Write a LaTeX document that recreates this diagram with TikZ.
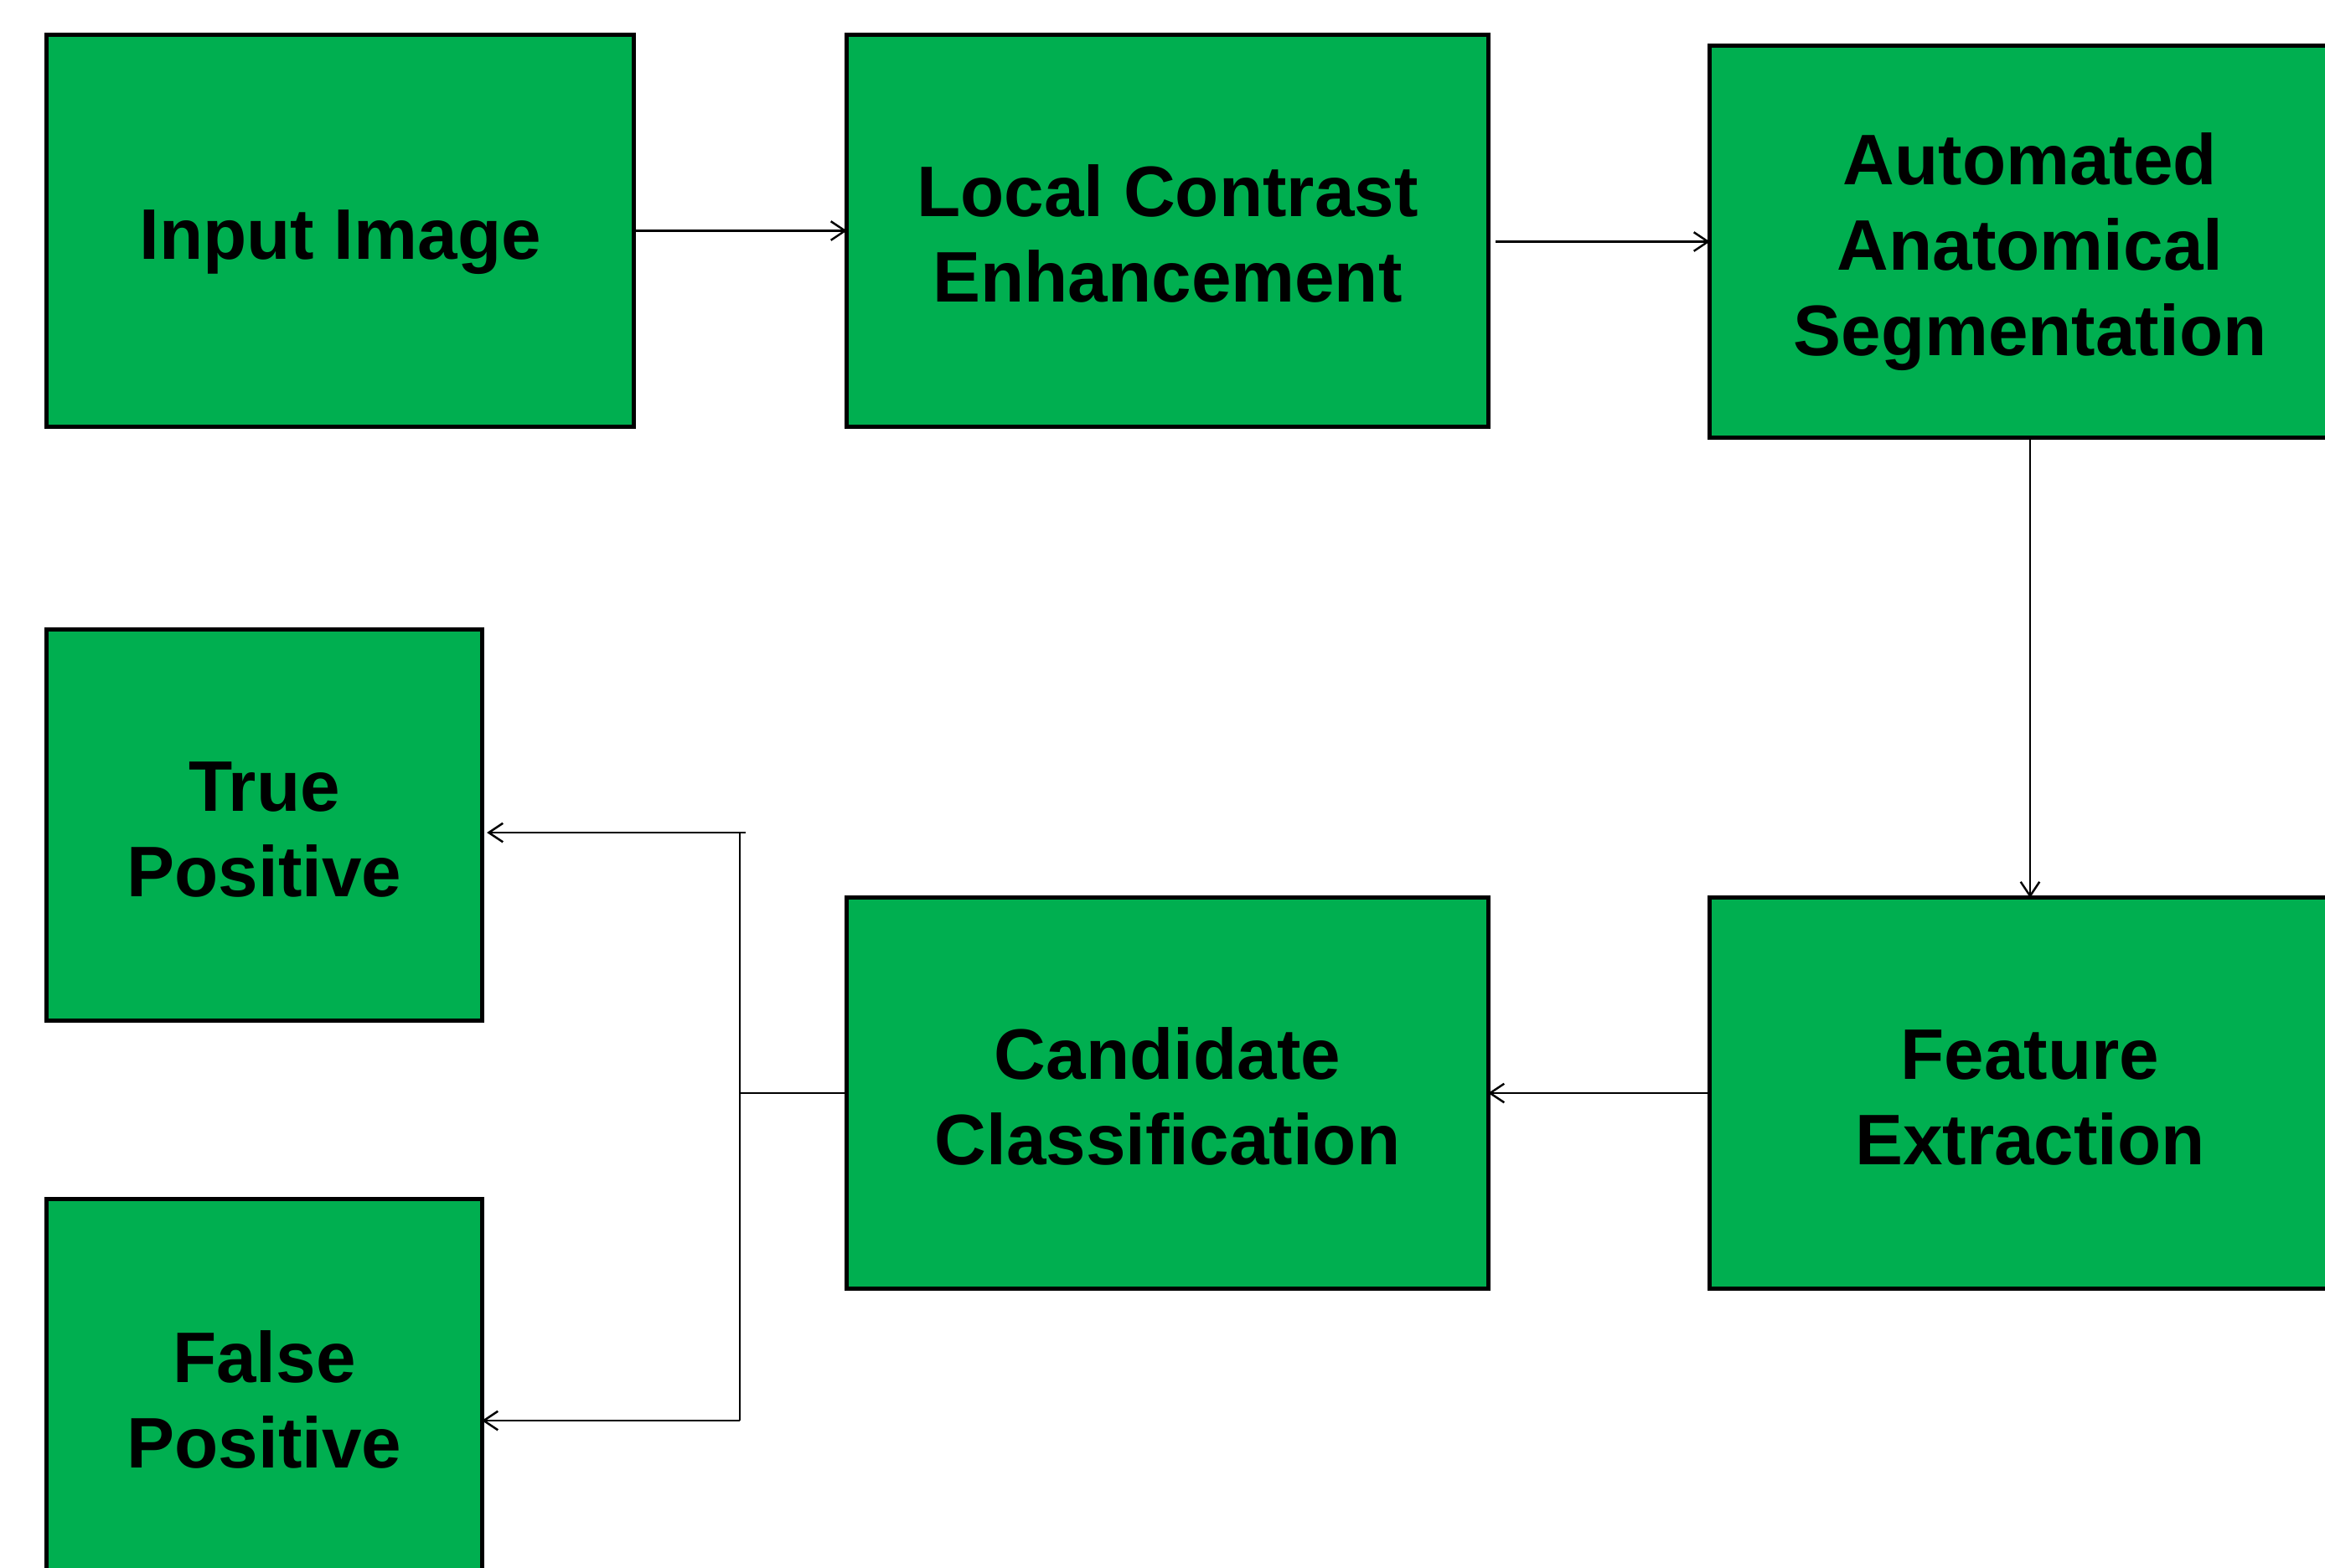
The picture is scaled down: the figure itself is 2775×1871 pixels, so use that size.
\documentclass[tikz,border=0pt]{standalone}
\usepackage{fontspec}
\setmainfont{Liberation Sans}
\usetikzlibrary{arrows.meta}
\definecolor{boxgreen}{HTML}{00AF50}
\newcommand{\boxline}[1]{\raisebox{0pt}[19.5pt][0pt]{#1}}
\tikzset{
  stepbox/.style={draw=black, fill=boxgreen, line width=1.4pt, inner sep=0pt, outer sep=0pt,
    align=center, font=\fontsize{24.3}{29}\selectfont\bfseries},
  arr/.style={line width=0.6pt, -{Straight Barb[length=4.8pt,width=6.4pt,line width=0.7pt]}},
  conn/.style={line width=0.6pt}
}
\begin{document}
\begin{tikzpicture}[x=0.01cm,y=-0.01cm]
\useasboundingbox (0,0) rectangle (2775,1871);
\node[stepbox, minimum width=7cm, minimum height=4.67cm] (in) at (406,275.5) {\boxline{Input Image}};
\node[stepbox, minimum width=7.65cm, minimum height=4.67cm] (lce) at (1393.5,275.5) {\boxline{Local Contrast}\\\boxline{Enhancement}};
\node[stepbox, minimum width=7.64cm, minimum height=4.67cm] (aas) at (2423,288.5) {\boxline{Automated}\\\boxline{Anatomical}\\\boxline{Segmentation}};
\node[stepbox, minimum width=7.64cm, minimum height=4.66cm] (fe) at (2423,1305) {\boxline{Feature}\\\boxline{Extraction}};
\node[stepbox, minimum width=7.65cm, minimum height=4.66cm] (cc) at (1393.5,1305) {\boxline{Candidate}\\\boxline{Classification}};
\node[stepbox, minimum width=5.19cm, minimum height=4.66cm] (tp) at (315.5,985) {\boxline{True}\\\boxline{Positive}};
\node[stepbox, minimum width=5.19cm, minimum height=4.70cm] (fp) at (315.5,1667) {\boxline{False}\\\boxline{Positive}};

\draw[arr] (in.east) -- (lce.west);
\path (lce.east |- aas.west) coordinate (p);
\draw[arr] ([xshift=0.9mm]p) -- (aas.west);
\draw[arr] (aas.south) -- (fe.north);
\draw[arr] (fe.west) -- (cc.east);

\coordinate (j) at (883,1305);
\coordinate (jt) at (883,994);
\coordinate (jtx) at (890,994);
\coordinate (jb) at (883,1696);
\draw[conn] (cc.west) -- (j);
\draw[conn] (jt) -- (jb);
\draw[arr] (jtx) -- ([xshift=0.6mm]tp.east |- jtx);
\draw[arr] (jb) -- (fp.east |- jb);
\end{tikzpicture}
\end{document}
